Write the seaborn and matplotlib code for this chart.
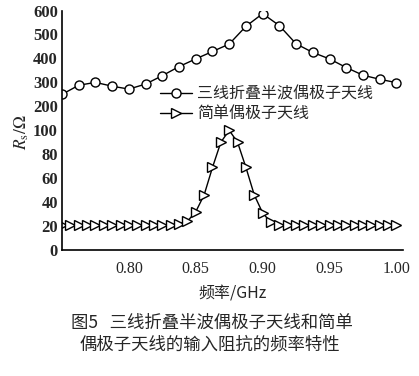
import numpy as np
import pandas as pd
import matplotlib
matplotlib.use("Agg")
import matplotlib.pyplot as plt
import seaborn as sns

# ---- data ----
freq_folded = [0.75 + 0.0125 * i for i in range(21)]
rs_folded = [250, 288, 300, 284, 272, 293, 328, 366, 398, 429, 460,
             534, 587, 537, 461, 425, 398, 362, 330, 313, 299]

freq_simple = [0.75 + 0.00625 * i for i in range(41)]
rs_simple = [21, 21, 21, 21, 21, 21, 21, 21, 21, 21, 21, 21, 21, 21, 22, 24,
             32, 46, 69, 90, 100, 90, 69, 46, 31, 23, 21, 21, 21, 21, 21,
             21, 21, 21, 21, 21, 21, 21, 21, 21, 21]

label_folded = "三线折叠半波偶极子天线"
label_simple = "简单偶极子天线"
xticks = [0.80, 0.85, 0.90, 0.95, 1.00]
yticks = [0, 20, 40, 60, 80, 100, 200, 300, 400, 500, 600]

sns.set_theme(style="white")
plt.rcParams['font.family'] = ['Liberation Serif', 'Noto Sans CJK SC', 'DejaVu Sans']
plt.rcParams['mathtext.fontset'] = 'stix'

df1 = pd.DataFrame({"f": freq_folded, "r": rs_folded})
df2 = pd.DataFrame({"f": freq_simple, "r": rs_simple})

fig = plt.figure(figsize=(4.19, 3.76), dpi=100)
ax = fig.add_axes([0.148, 0.335, 0.814, 0.637])

def fwd(y):
    y = np.asarray(y, dtype=float)
    return np.where(y <= 100, y / 20.0, 5.0 + (y - 100.0) / 100.0)

def inv(v):
    v = np.asarray(v, dtype=float)
    return np.where(v <= 5, v * 20.0, 100.0 + (v - 5.0) * 100.0)

ax.set_yscale('function', functions=(fwd, inv))

sns.lineplot(data=df1, x="f", y="r", ax=ax, color="black", lw=1.0,
             marker="o", markersize=6.5, markerfacecolor="white",
             markeredgecolor="black", markeredgewidth=1.0, label=label_folded)
sns.lineplot(data=df2, x="f", y="r", ax=ax, color="black", lw=1.0,
             marker=">", markersize=6.5, markerfacecolor="white",
             markeredgecolor="black", markeredgewidth=1.0, label=label_simple)

ax.set_xlim(0.75, 1.005)
ax.set_ylim(0, 600)
ax.set_xticks(xticks)
ax.set_xticklabels([f"{t:.2f}" for t in xticks], fontsize=11.5)
ax.set_yticks(yticks)
ax.set_yticklabels([str(t) for t in yticks], fontsize=12, fontweight='bold')
ax.tick_params(axis='x', direction='in', length=3, width=1, pad=8, color='black')
ax.tick_params(axis='y', length=0, pad=3)
ax.minorticks_off()
for s in ['top', 'right']:
    ax.spines[s].set_visible(False)
for s in ['left', 'bottom']:
    ax.spines[s].set_color('black')
    ax.spines[s].set_linewidth(1.2)

ax.set_xlabel("频率/GHz", fontsize=11.5, labelpad=6,
              family=['Noto Sans CJK SC', 'DejaVu Sans'])
ax.set_ylabel(r"$R_\mathrm{s}/\Omega$", fontsize=12.5, labelpad=2)
ax.yaxis.set_label_coords(-0.09, 0.49)

leg = ax.legend(loc='upper left', bbox_to_anchor=(0.27, 0.715), frameon=False,
                prop={'family': ['Noto Sans CJK SC', 'DejaVu Sans'], 'size': 11.5},
                handlelength=2.0, handletextpad=0.3, labelspacing=0.2,
                borderaxespad=0)

fig.text(0.505, 0.141, "图5   三线折叠半波偶极子天线和简单", ha='center', va='center',
         fontsize=12.5, family=['Noto Sans CJK SC', 'DejaVu Sans'])
fig.text(0.5, 0.083, "偶极子天线的输入阻抗的频率特性", ha='center', va='center',
         fontsize=12.5, family=['Noto Sans CJK SC', 'DejaVu Sans'])

fig.savefig("out.png", dpi=100)
